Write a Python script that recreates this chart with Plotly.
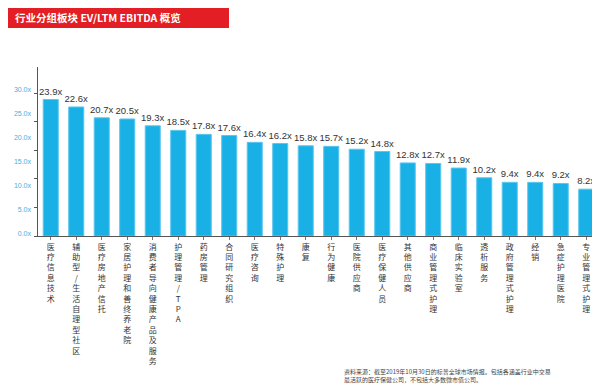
import plotly.graph_objects as go

categories = [
    "医疗信息技术", "辅助型/生活自理型社区", "医疗房地产信托", "家居护理和善终养老院",
    "消费者导向健康产品及服务", "护理管理/TPA", "药房管理", "合同研究组织",
    "医疗咨询", "特殊护理", "康复", "行为健康", "医院供应商", "医疗保健人员",
    "其他供应商", "商业管理式护理", "临床实验室", "透析服务", "政府管理式护理",
    "经销", "急症护理医院", "专业管理式护理",
]
values = [23.9, 22.6, 20.7, 20.5, 19.3, 18.5, 17.8, 17.6, 16.4, 16.2, 15.8,
          15.7, 15.2, 14.8, 12.8, 12.7, 11.9, 10.2, 9.4, 9.4, 9.2, 8.2]
ytick_text = ["0.0x", "5.0x", "10.0x", "15.0x", "20.0x", "25.0x", "30.0x"]
ytick_label_pos = [0.5, 4.7, 8.9, 13.1, 17.3, 21.5, 25.7]
ytick_marks = [0, 5, 10, 15, 20, 25]

title = "行业分组板块 EV/LTM EBITDA 概览"
note = ("资料来源：截至2019年10月30日的标普全球市场情报。包括各涵盖行业中交易<br>"
        "最活跃的医疗保健公司，不包括大多数微市值公司。")

vert_labels = ["<br>".join(list(c)) for c in categories]
CJK = "Noto Sans CJK SC"

# page body has an 8px default margin; figure pixel coords = screen - 8
OFF = 8
W, H = 600 - OFF, 391 - OFF
L, T = 38 - OFF, 67 - OFF
PW, PH = 561, 169
B = H - T - PH
R = W - L - PW


def px_x(x):
    return (x - OFF - L) / PW


def px_y(y):
    return (T + PH - (y - OFF)) / PH


fig = go.Figure()
fig.add_trace(go.Bar(
    x=list(range(len(values))), y=values,
    marker=dict(color="#19B0E6", line=dict(color="#5BC6EE", width=1)),
    text=[f"{v:.1f}x" for v in values], textposition="outside",
    textfont=dict(family="Arial", size=9.5, color="#333333"),
    constraintext="none", cliponaxis=False, width=0.59,
))
fig.add_trace(go.Scatter(x=[0], y=[0], yaxis="y2", mode="markers",
                         marker=dict(opacity=0), showlegend=False, hoverinfo="skip"))

yr = [0, 29.6]
fig.update_layout(
    width=W, height=H,
    margin=dict(l=L, r=R, t=T, b=B, autoexpand=False),
    paper_bgcolor="white", plot_bgcolor="white",
    showlegend=False, bargap=0.41,
    xaxis=dict(
        tickmode="array", tickvals=list(range(len(values))), ticktext=vert_labels,
        range=[-0.5, len(values) - 0.5], showline=True, linecolor="#555", linewidth=1,
        ticks="outside", tickson="boundaries", ticklen=3, tickcolor="#777",
        tickfont=dict(family=CJK, size=8, color="#333"), tickangle=0,
        showgrid=False, zeroline=False, automargin=False,
    ),
    yaxis=dict(
        range=yr, tickmode="array", tickvals=ytick_marks, showticklabels=False,
        ticks="outside", ticklen=3, tickcolor="#555", automargin=False,
        showline=True, linecolor="#555", linewidth=1, showgrid=False, zeroline=False,
    ),
    yaxis2=dict(
        range=yr, overlaying="y", side="left", tickmode="array",
        tickvals=ytick_label_pos, ticktext=ytick_text, ticks="",
        showline=False, showgrid=False, zeroline=False, automargin=False,
        tickfont=dict(family="Arial", size=7, color="#4AAEE0"),
        ticklabelstandoff=6,
    ),
    shapes=[dict(type="rect", xref="paper", yref="paper",
                 x0=px_x(OFF), x1=px_x(229), y0=px_y(28), y1=px_y(5),
                 fillcolor="#E31E24", line=dict(width=0), layer="below")],
)
fig.add_annotation(xref="paper", yref="paper", x=px_x(13), y=px_y(17),
                   xanchor="left", yanchor="middle", showarrow=False,
                   text="<b>" + title + "</b>",
                   font=dict(family=CJK, size=10.5, color="white"))
fig.add_annotation(xref="paper", yref="paper", x=px_x(342), y=px_y(365),
                   xanchor="left", yanchor="top", showarrow=False, align="left",
                   text=note, font=dict(family=CJK, size=6, color="#444"))

fig.write_html("out.html")
